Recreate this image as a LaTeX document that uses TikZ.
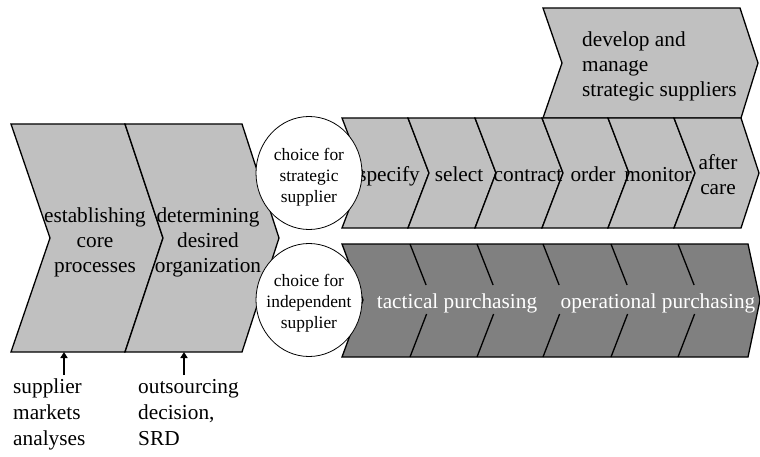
\documentclass[tikz,border=0pt]{standalone}
\usepackage{fontspec}
\setmainfont{Liberation Serif}
\usetikzlibrary{arrows.meta,shapes.geometric}
\definecolor{paleshade}{HTML}{C0C0C0}
\definecolor{deepshade}{HTML}{808080}

\begin{document}
\begin{tikzpicture}[x=1pt,y=-1pt,
  chev/.style={draw=black, line width=1.3pt, line join=miter, fill=paleshade},
  chevdark/.style={chev, fill=deepshade},
  divider/.style={draw=black, line width=1.3pt},
  lbl/.style={font=\fontsize{21.3}{25}\selectfont, align=center, inner sep=0pt},
  lowlbl/.style={lbl, text=white},
  sidelbl/.style={font=\fontsize{21.3}{26}\selectfont, align=left, inner sep=0pt, anchor=west},
  choice/.style={ellipse, draw=black, line width=0.8pt, fill=white,
    minimum width=106pt, minimum height=113pt, inner sep=0pt},
  choicetxt/.style={font=\fontsize{17.4}{21}\selectfont, align=center, inner sep=0pt},
  feed/.style={-{Triangle[length=6pt,width=7pt]}, line width=1.6pt}
]
\useasboundingbox (0,0) rectangle (760,457);

% banner above the upper process row
\draw[chev] (543,8) -- (740,8) -- (758,63) -- (741,118) -- (543,118) -- (562,63) -- cycle;
\node[lbl, align=left, anchor=west] (develop) at (582,66.6)
  {develop and\\manage\\strategic suppliers};

% two initial chevrons
\draw[chev] (11,124) -- (125,124) -- (163,238) -- (125,352) -- (11,352) -- (50,238) -- cycle;
\draw[chev] (125,124) -- (242,124) -- (279,238) -- (242,352) -- (125,352) -- (163,238) -- cycle;
\node[lbl] (core) at (95,242) {establishing\\core\\processes};
\node[lbl] (organ) at (208,242) {determining\\desired\\organization};

% upper process row (strategic supplier)
\foreach \a/\b in {342/408, 408/475, 475/542, 542/608, 608/674}
  \draw[chev] (\a,118) -- (\b,118) -- (\b+21,173) -- (\b,228) -- (\a,228) -- (\a+21,173) -- cycle;
\draw[chev] (674,118) -- (741,118) -- (759,173) -- (741,228) -- (674,228) -- (695,173) -- cycle;
\node[lbl, anchor=base] (specify) at (389,182) {specify};
\node[lbl, anchor=base] (select) at (459,182) {select};
\node[lbl, anchor=base] (contract) at (528,182) {contract};
\node[lbl, anchor=base] (order) at (593,182) {order};
\node[lbl, anchor=base] (monitor) at (658,182) {monitor};
\node[lbl] (aftercare) at (718,175) {after\\care};

% lower process row (independent supplier)
\draw[chevdark] (342,244) -- (748,244) -- (760,300) -- (748,357) -- (342,357) -- (363,300) -- cycle;
\foreach \a in {410,477,543,611,678} {
  \draw[divider] (\a,244) -- (\a+16.1,285);
  \draw[divider] (\a+16.6,314) -- (\a,357);
}
\node[lowlbl, anchor=base] (tactical) at (457,308) {tactical purchasing};
\node[lowlbl, anchor=base] (operational) at (658,308) {operational purchasing};

% the two supplier choices
\node[choice] (strategic) at (309,173) {};
\node[choicetxt] (strategictxt) at (309,177) {choice for\\strategic\\supplier};
\node[choice] (independent) at (309,300) {};
\node[choicetxt] (independenttxt) at (309,303.5) {choice for\\independent\\supplier};

% inputs below the initial chevrons
\node[sidelbl] (markets) at (13,414.5) {supplier\\markets\\analyses};
\node[sidelbl] (outsourcing) at (138,412.5) {outsourcing\\decision,\\SRD};
\coordinate (feedA) at (64,375);
\coordinate (feedAend) at (64,352);
\coordinate (feedB) at (184,375);
\coordinate (feedBend) at (184,352);
\draw[feed] (feedA) -- (feedAend);
\draw[feed] (feedB) -- (feedBend);
\end{tikzpicture}
\end{document}
